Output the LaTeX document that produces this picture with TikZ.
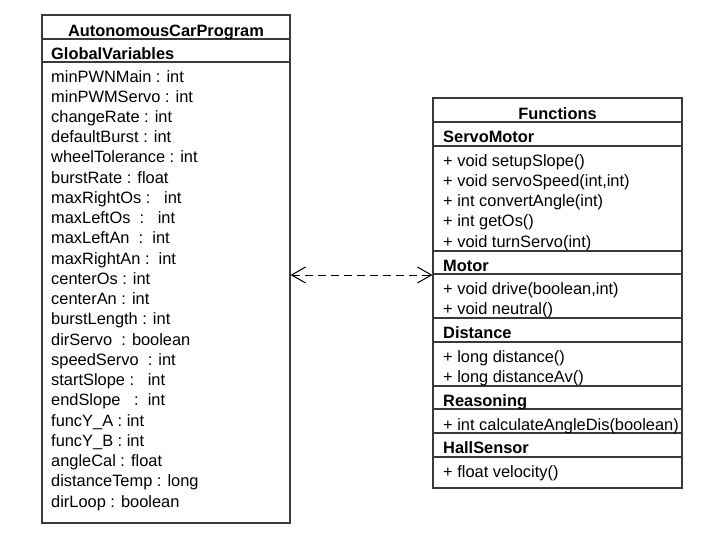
\documentclass[tikz,border=0pt]{standalone}
\usepackage{fontspec}
\setmainfont{Liberation Sans}
\usetikzlibrary{arrows.meta}
\definecolor{boxline}{HTML}{3A3A3A}
\tikzset{
  umlbox/.style={draw=boxline, line width=1.2pt, rectangle, inner sep=0pt},
  divider/.style={draw=boxline, line width=1.2pt},
  txt/.style={anchor=base west, inner sep=0pt, font=\fontsize{16.4}{20}\selectfont},
  hdr/.style={txt, font=\fontsize{16.4}{20}\selectfont\bfseries},
  ttl/.style={anchor=base, inner sep=0pt, font=\fontsize{16.4}{20}\selectfont\bfseries},
  dep/.style={draw=black, line width=1pt, dash pattern=on 8pt off 5pt,
    {Straight Barb[length=14pt, width=16pt, line width=1pt]}-{Straight Barb[length=14pt, width=16pt, line width=1pt]}}
}
\begin{document}
\begin{tikzpicture}[x=1pt,y=-1pt]
\useasboundingbox (0,0) rectangle (712,539);
% boxes
\node[umlbox, minimum width=248pt, minimum height=508pt] (acp) at (166,269) {};
\node[umlbox, minimum width=249pt, minimum height=390pt] (fn) at (557.5,293) {};
% left box dividers
\foreach \yy in {39,62} \draw[divider] (acp.west |- 0,\yy) -- (acp.east |- 0,\yy);
% right box dividers
\foreach \yy in {122,146,251,274,318,342,386,409,433,457} \draw[divider] (fn.west |- 0,\yy) -- (fn.east |- 0,\yy);
% left texts
\node[ttl] (acptitle) at (166,36) {AutonomousCarProgram};
\node[hdr] (gv) at (51,59) {GlobalVariables};
\node[txt] (v1) at (51,82.0) {minPWNMain : int};
\node[txt] (v2) at (51,102.24) {minPWMServo : int};
\node[txt] (v3) at (51,122.48) {changeRate : int};
\node[txt] (v4) at (51,142.72) {defaultBurst : int};
\node[txt] (v5) at (51,162.96) {wheelTolerance : int};
\node[txt] (v6) at (51,183.2) {burstRate : float};
\node[txt] (v7) at (51,203.44) {maxRightOs :\ \ \ int};
\node[txt] (v8) at (51,223.68) {maxLeftOs\ \ :\ \ \ int};
\node[txt] (v9) at (51,243.92) {maxLeftAn\ \ :\ \ int};
\node[txt] (v10) at (51,264.16) {maxRightAn :\ \ int};
\node[txt] (v11) at (51,284.4) {centerOs : int};
\node[txt] (v12) at (51,304.64) {centerAn : int};
\node[txt] (v13) at (51,324.88) {burstLength : int};
\node[txt] (v14) at (51,345.12) {dirServo\ \ : boolean};
\node[txt] (v15) at (51,365.36) {speedServo\ \ : int};
\node[txt] (v16) at (51,385.6) {startSlope :\ \ \ int};
\node[txt] (v17) at (51,405.84) {endSlope\ \ \ :\ \ int};
\node[txt] (v18) at (51,426.08) {funcY\_A : int};
\node[txt] (v19) at (51,446.32) {funcY\_B : int};
\node[txt] (v20) at (51,466.56) {angleCal : float};
\node[txt] (v21) at (51,486.8) {distanceTemp : long};
\node[txt] (v22) at (51,507.04) {dirLoop : boolean};
% right texts
\node[ttl] (fntitle) at (557.5,119) {Functions};
\node[hdr] (sm) at (443,142) {ServoMotor};
\node[txt] (f1) at (443,166) {+ void setupSlope()};
\node[txt] (f2) at (443,186.3) {+ void servoSpeed(int,int)};
\node[txt] (f3) at (443,206.6) {+ int convertAngle(int)};
\node[txt] (f4) at (443,226.9) {+ int getOs()};
\node[txt] (f5) at (443,247.2) {+ void turnServo(int)};
\node[hdr] (mo) at (443,271) {Motor};
\node[txt] (f6) at (443,294) {+ void drive(boolean,int)};
\node[txt] (f7) at (443,314.3) {+ void neutral()};
\node[hdr] (di) at (443,338) {Distance};
\node[txt] (f8) at (443,362) {+ long distance()};
\node[txt] (f9) at (443,382.3) {+ long distanceAv()};
\node[hdr] (re) at (443,406) {Reasoning};
\node[txt] (f10) at (443,430) {+ int calculateAngleDis(boolean)};
\node[hdr] (hs) at (443,453) {HallSensor};
\node[txt] (f11) at (443,477) {+ float velocity()};
% connector
\coordinate (ay) at (0,275);
\draw[dep] (acp.east |- ay) -- (fn.west |- ay);
\end{tikzpicture}
\end{document}
